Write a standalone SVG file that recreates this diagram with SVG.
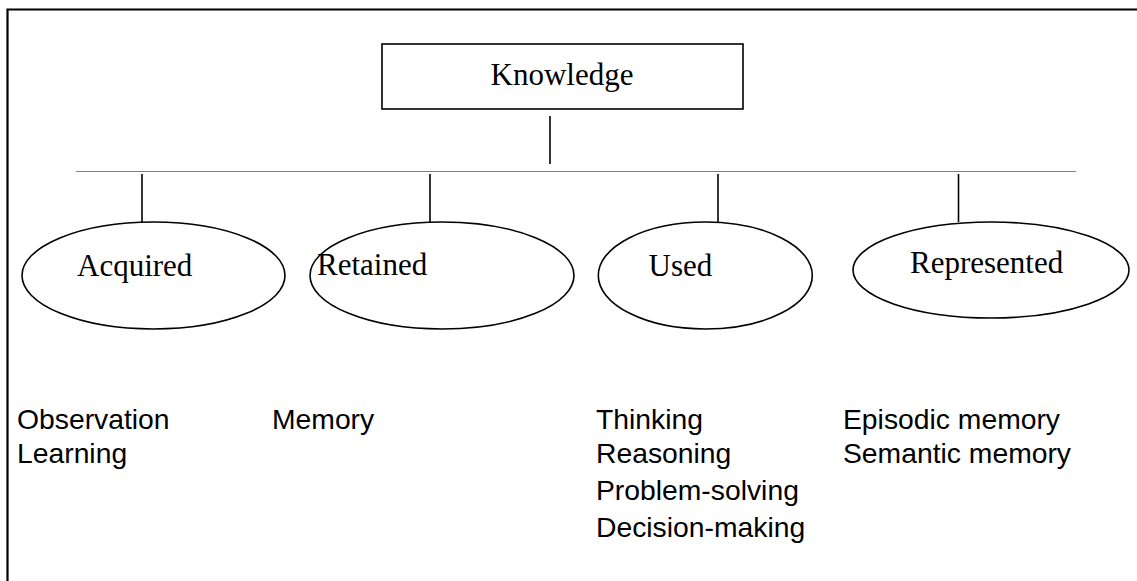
<svg xmlns="http://www.w3.org/2000/svg" width="1137" height="581" viewBox="0 0 1137 581">
<style>
.serif{font-family:"Liberation Serif","Times New Roman",serif;font-size:31px;fill:#000}
.sans{font-family:"Liberation Sans",Arial,sans-serif;font-size:28.3px;fill:#000}
.shape{fill:#fff;stroke:#000;stroke-width:1.6}
.conn{stroke:#000;stroke-width:1.6;fill:none}
</style>
<rect width="1137" height="581" fill="#fff"/>
<path d="M7.5,581 V9.5 H1137" fill="none" stroke="#000" stroke-width="2.2"/>
<g id="connectors">
<line class="conn" x1="550" y1="116" x2="550" y2="164"/>
<line x1="76" y1="171.5" x2="1076" y2="171.5" stroke="#808080" stroke-width="1"/>
<line class="conn" x1="142" y1="174" x2="142" y2="222"/>
<line class="conn" x1="430" y1="174" x2="430" y2="222"/>
<line class="conn" x1="718" y1="174" x2="718" y2="222"/>
<line class="conn" x1="958.5" y1="174" x2="958.5" y2="222"/>
</g>
<g id="knowledge">
<rect class="shape" x="382" y="44" width="361" height="65"/>
<text class="serif" x="562" y="85" text-anchor="middle">Knowledge</text>
</g>
<g id="acquired">
<ellipse class="shape" cx="153.5" cy="275.5" rx="131.5" ry="53.5"/>
<text class="serif" x="77" y="276">Acquired</text>
</g>
<g id="retained">
<ellipse class="shape" cx="442" cy="275.5" rx="132" ry="53.5"/>
<text class="serif" x="317" y="275">Retained</text>
</g>
<g id="used">
<ellipse class="shape" cx="705.3" cy="275.5" rx="107" ry="53.5"/>
<text class="serif" x="648.5" y="276">Used</text>
</g>
<g id="represented">
<ellipse class="shape" cx="991" cy="270" rx="138" ry="48"/>
<text class="serif" x="910" y="273">Represented</text>
</g>
<g id="acquired-list">
<text class="sans" x="17" y="429">Observation</text>
<text class="sans" x="17" y="463">Learning</text>
</g>
<g id="retained-list">
<text class="sans" x="272" y="429">Memory</text>
</g>
<g id="used-list">
<text class="sans" x="596" y="429">Thinking</text>
<text class="sans" x="596" y="463">Reasoning</text>
<text class="sans" x="596" y="500">Problem-solving</text>
<text class="sans" x="596" y="537">Decision-making</text>
</g>
<g id="represented-list">
<text class="sans" x="843" y="429">Episodic memory</text>
<text class="sans" x="843" y="463">Semantic memory</text>
</g>
</svg>
